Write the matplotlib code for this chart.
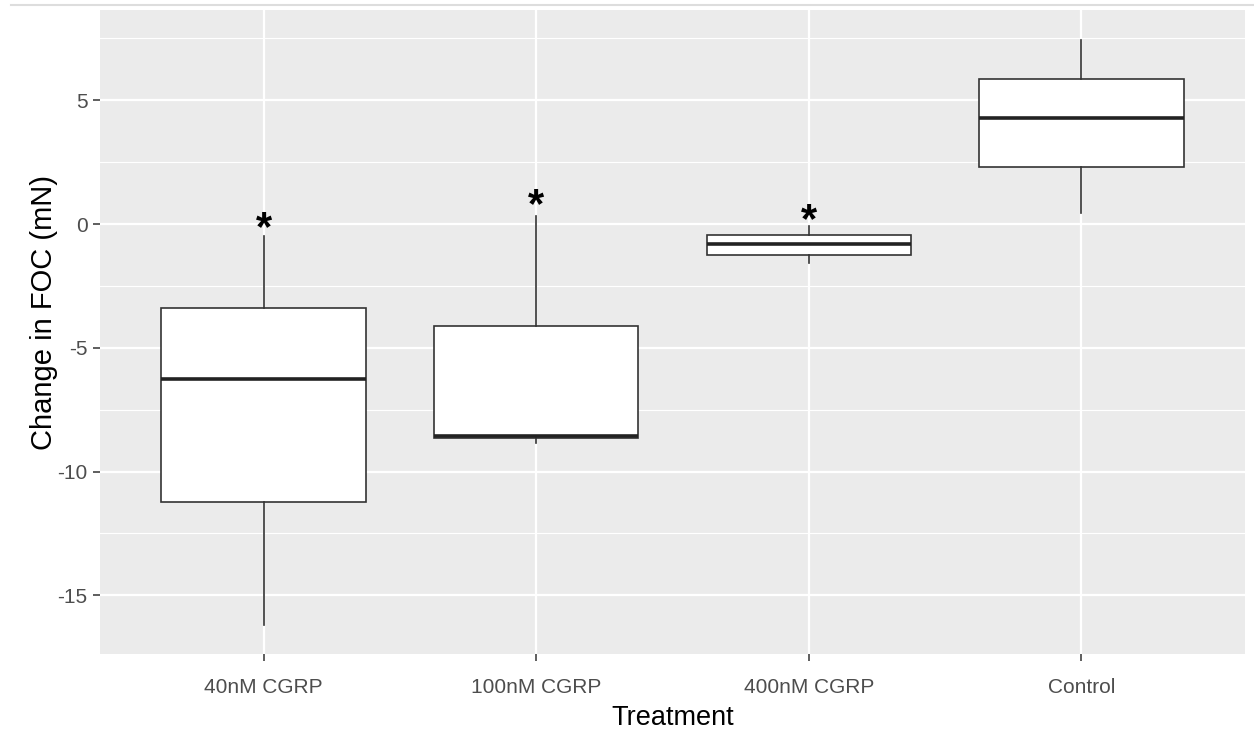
import numpy as np
import matplotlib
matplotlib.use("Agg")
from matplotlib import pyplot as plt
from matplotlib.lines import Line2D

# box summary values (mN)
treatments = ["40nM CGRP", "100nM CGRP", "400nM CGRP", "Control"]
whisker_lo = [-16.2, -8.85, -1.59, 0.43]
q1 = [-11.23, -8.65, -1.25, 2.32]
medians = [-6.27, -8.57, -0.80, 4.30]
q3 = [-3.38, -4.12, -0.44, 5.86]
whisker_hi = [-0.48, 0.32, -0.08, 7.44]
star_y = [-0.2, 0.72, 0.11]  # significance markers above the first three

plt.rcParams['font.family'] = ['Liberation Sans', 'DejaVu Sans']

fig = plt.figure(figsize=(12.54, 7.43), dpi=100)
ax = fig.add_axes([100/1254, 1 - 654/743, (1245-100)/1254, (654-10)/743])
ax.set_facecolor("#EBEBEB")
for s in ax.spines.values():
    s.set_visible(False)

stats = []
for i in range(len(treatments)):
    stats.append({
        'whislo': whisker_lo[i], 'q1': q1[i], 'med': medians[i],
        'q3': q3[i], 'whishi': whisker_hi[i], 'fliers': [], 'label': treatments[i]
    })

pos = np.arange(1, len(treatments) + 1)
ax.bxp(stats, positions=pos, widths=0.75, showcaps=False, patch_artist=True,
       boxprops=dict(facecolor="white", edgecolor="#333333", linewidth=1.2),
       whiskerprops=dict(color="#333333", linewidth=1.2),
       medianprops=dict(color="#222222", linewidth=2.6, solid_capstyle='butt'),
       zorder=3)

for i, y in enumerate(star_y):
    ax.text(pos[i], y, "*", ha="center", va="center", fontsize=30,
            fontweight="bold", color="black", zorder=4)

ax.set_xlim(0.4, 4.6)
ax.set_ylim(-17.37, 8.65)
ax.set_yticks([-15, -10, -5, 0, 5])
ax.set_yticklabels(["-15", "-10", "-5", "0", "5"])
ax.set_yticks([-12.5, -7.5, -2.5, 2.5, 7.5], minor=True)
ax.set_xticks(pos)
ax.set_xticklabels(treatments)

ax.grid(True, which="major", color="white", linewidth=1.6, zorder=0)
ax.grid(True, which="minor", axis="y", color="white", linewidth=0.8, zorder=0)
ax.set_axisbelow(True)
ax.tick_params(which="major", length=5, width=1.1, color="#333333",
               labelsize=15, labelcolor="#4D4D4D")
ax.tick_params(axis="x", which="major", pad=12)
ax.tick_params(axis="y", which="major", pad=4)
ax.tick_params(which="minor", length=0)

ax.set_xlabel("Treatment", fontsize=19.5, labelpad=6)
ax.set_ylabel("Change in FOC (mN)", fontsize=21)
ax.yaxis.set_label_coords(-0.037, 0.53)

# thin grey frame line along the top of the screenshot
fig.add_artist(Line2D([11/1254, 1], [1 - 5/743, 1 - 5/743], color="#DDDDDD",
                      linewidth=1.5, transform=fig.transFigure))

fig.savefig("out.png", dpi=100)
